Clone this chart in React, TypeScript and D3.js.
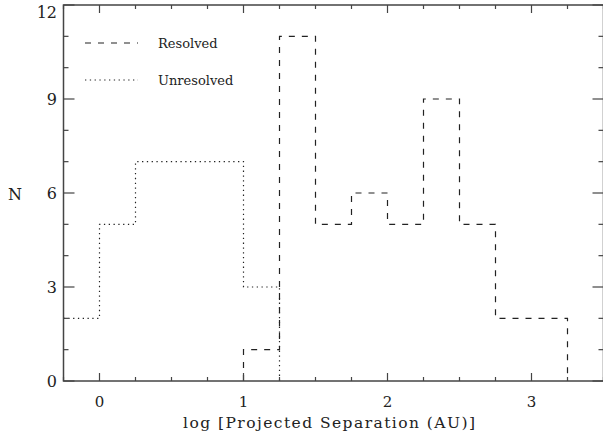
import React from "react";
import * as d3 from "d3";

const binEdges = [-0.25, 0, 0.25, 0.5, 0.75, 1.0, 1.25, 1.5, 1.75, 2.0, 2.25, 2.5, 2.75, 3.0, 3.25, 3.5];
const resolved = [0, 0, 0, 0, 0, 1, 11, 5, 6, 5, 9, 5, 2, 2, 0];
const unresolved = [2, 5, 7, 7, 7, 3, 0, 0, 0, 0, 0, 0, 0, 0, 0];
const xMajor = [0, 1, 2, 3];
const yMajor = [0, 3, 6, 9, 12];
const seriesNames = ["Resolved", "Unresolved"];

const W = 603, H = 433;
const M = { left: 63.5, right: 603.5, top: 5, bottom: 381 };
const FONT = "'DejaVu Serif', serif";
const INK = "#222";

function stepPath(values: number[], x: d3.ScaleLinear<number, number>, y: d3.ScaleLinear<number, number>) {
  const first = values.findIndex((v) => v > 0);
  const last = values.length - 1 - [...values].reverse().findIndex((v) => v > 0);
  const pts: [number, number][] = [];
  if (first > 0) pts.push([x(binEdges[first]), y(0)]);
  for (let i = first; i <= last; i++) {
    pts.push([x(binEdges[i]), y(values[i])]);
    pts.push([x(binEdges[i + 1]), y(values[i])]);
  }
  pts.push([x(binEdges[last + 1]), y(0)]);
  return d3.line()(pts) as string;
}

export default function App() {
  const x = d3.scaleLinear().domain([-0.25, 3.5]).range([M.left, M.right]);
  const y = d3.scaleLinear().domain([0, 12]).range([M.bottom, M.top]);
  const xMinor = d3.range(-0.25, 3.5001, 0.25).filter((v) => !xMajor.some((m) => Math.abs(m - v) < 1e-6));
  const yMinor = d3.range(0, 12.001, 1).filter((v) => !yMajor.includes(v));

  return (
    <svg width={W} height={H} style={{ position: "absolute", left: 0, top: 0, background: "#fff" }}>
      {/* histograms */}
      <path d={stepPath(unresolved, x, y)} fill="none" stroke={INK} strokeWidth={1.2} strokeDasharray="1.3 3.5" />
      <path d={stepPath(resolved, x, y)} fill="none" stroke={INK} strokeWidth={1.2} strokeDasharray="6 7" />

      {/* frame */}
      <rect x={M.left} y={M.top} width={M.right - M.left} height={M.bottom - M.top} fill="none" stroke="#444" strokeWidth={1.5} />

      {/* x ticks */}
      {xMajor.map((v) => (
        <g key={"xm" + v}>
          <line x1={x(v)} x2={x(v)} y1={M.bottom} y2={M.bottom - 8} stroke="#444" strokeWidth={1.2} />
          <line x1={x(v)} x2={x(v)} y1={M.top} y2={M.top + 8} stroke="#444" strokeWidth={1.2} />
          <text x={x(v)} y={407} fontFamily={FONT} fontSize={15} textAnchor="middle" fill={INK}>{v}</text>
        </g>
      ))}
      {xMinor.map((v) => (
        <g key={"xn" + v}>
          <line x1={x(v)} x2={x(v)} y1={M.bottom} y2={M.bottom - 4} stroke="#444" strokeWidth={1.2} />
          <line x1={x(v)} x2={x(v)} y1={M.top} y2={M.top + 4} stroke="#444" strokeWidth={1.2} />
        </g>
      ))}

      {/* y ticks */}
      {yMajor.map((v) => (
        <g key={"ym" + v}>
          <line x1={M.left} x2={M.left + 11} y1={y(v)} y2={y(v)} stroke="#444" strokeWidth={1.2} />
          <line x1={M.right} x2={M.right - 11} y1={y(v)} y2={y(v)} stroke="#444" strokeWidth={1.2} />
          <text x={57} y={Math.max(y(v), 12)} fontFamily={FONT} fontSize={16} textAnchor="end" dominantBaseline="central" fill={INK}>{v}</text>
        </g>
      ))}
      {yMinor.map((v) => (
        <g key={"yn" + v}>
          <line x1={M.left} x2={M.left + 5} y1={y(v)} y2={y(v)} stroke="#444" strokeWidth={1.2} />
          <line x1={M.right} x2={M.right - 5} y1={y(v)} y2={y(v)} stroke="#444" strokeWidth={1.2} />
        </g>
      ))}

      {/* axis titles */}
      <text x={329} y={428} fontFamily={FONT} fontSize={15.5} textAnchor="middle" textLength={292} lengthAdjust="spacing" fill={INK}>log [Projected Separation (AU)]</text>
      <text x={15} y={194} fontFamily={FONT} fontSize={16} textAnchor="middle" dominantBaseline="central" fill={INK}>N</text>

      {/* legend */}
      <line x1={85} x2={138} y1={43} y2={43} stroke={INK} strokeWidth={1.2} strokeDasharray="6 7" />
      <text x={158} y={43} fontFamily={FONT} fontSize={13} dominantBaseline="central" fill={INK}>{seriesNames[0]}</text>
      <line x1={85} x2={138} y1={80} y2={80} stroke={INK} strokeWidth={1.2} strokeDasharray="1.3 3.5" />
      <text x={158} y={80} fontFamily={FONT} fontSize={13} dominantBaseline="central" fill={INK}>{seriesNames[1]}</text>
    </svg>
  );
}
